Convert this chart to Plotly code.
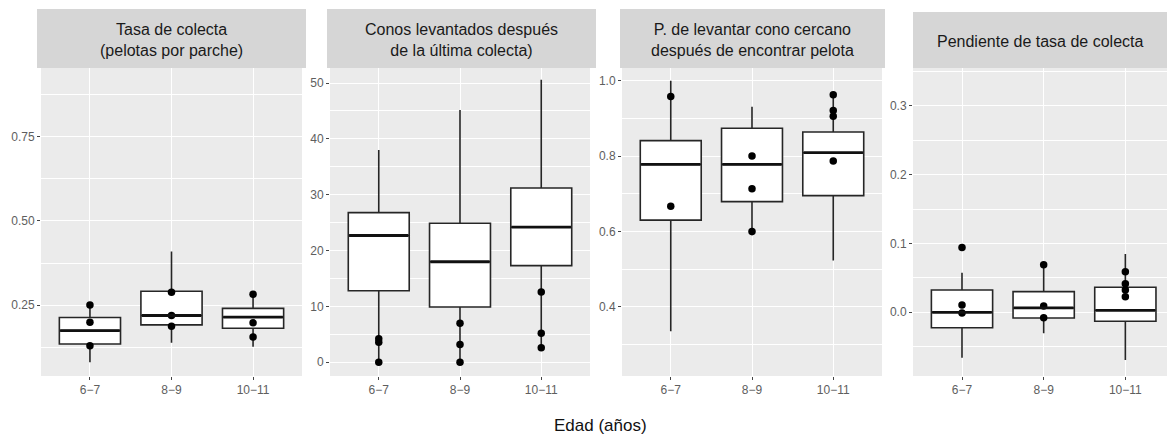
import plotly.graph_objects as go

W, H = 1167, 436

ages = ["6−7", "8−9", "10−11"]

panel_titles = [
    "Tasa de colecta<br>(pelotas por parche)",
    "Conos levantados después<br>de la última colecta)",
    "P. de levantar cono cercano<br>después de encontrar pelota",
    "Pendiente de tasa de colecta",
]

# box statistics per panel (q1, median, q3, lower whisker, upper whisker)
tasa_q1 = [0.134, 0.191, 0.181]
tasa_med = [0.174, 0.219, 0.214]
tasa_q3 = [0.213, 0.291, 0.240]
tasa_lo = [0.080, 0.138, 0.126]
tasa_hi = [0.250, 0.409, 0.282]

conos_q1 = [12.8, 9.9, 17.3]
conos_med = [22.7, 18.0, 24.2]
conos_q3 = [26.8, 24.9, 31.2]
conos_lo = [0.0, 0.0, 2.6]
conos_hi = [38.0, 45.2, 50.6]

prob_q1 = [0.630, 0.679, 0.695]
prob_med = [0.778, 0.778, 0.809]
prob_q3 = [0.841, 0.874, 0.864]
prob_lo = [0.335, 0.590, 0.523]
prob_hi = [1.000, 0.931, 0.965]

pend_q1 = [-0.0224, -0.0083, -0.0130]
pend_med = [0.0000, 0.0063, 0.0029]
pend_q3 = [0.0324, 0.0300, 0.0363]
pend_lo = [-0.0660, -0.0306, -0.0693]
pend_hi = [0.0576, 0.0698, 0.0848]

# overlaid individual points
tasa_pts = [[0.250, 0.199, 0.129], [0.288, 0.219, 0.187], [0.282, 0.197, 0.155]]
conos_pts = [[4.2, 3.6, 0.0], [7.0, 3.2, 0.0], [12.6, 5.2, 2.6]]
prob_pts = [[0.958, 0.667], [0.800, 0.713, 0.600], [0.963, 0.921, 0.906, 0.787]]
pend_pts = [[0.094, 0.0105, -0.001], [0.069, 0.009, -0.008], [0.059, 0.0414, 0.0324, 0.0227]]

y_ranges = [[0.039, 0.955], [-2.46, 52.7], [0.216, 1.034], [-0.0926, 0.355]]
y_dticks = [0.25, 10, 0.2, 0.1]
y_fmt = [".2f", "d", ".1f", ".1f"]

panels = [
    (tasa_q1, tasa_med, tasa_q3, tasa_lo, tasa_hi, tasa_pts),
    (conos_q1, conos_med, conos_q3, conos_lo, conos_hi, conos_pts),
    (prob_q1, prob_med, prob_q3, prob_lo, prob_hi, prob_pts),
    (pend_q1, pend_med, pend_q3, pend_lo, pend_hi, pend_pts),
]

# layout geometry (pixels)
px_domains = [(41, 302), (330, 590), (622, 882), (913, 1167)]
x_ranges = [[-0.6, 2.6], [-0.6, 2.6], [-0.6, 2.6], [-0.6, 2.51]]
strip_x = [(37, 306), (327, 596), (620, 885), (913, 1167)]
strip_y = [(9, 68), (9, 68), (9, 68), (12, 68)]
panel_top, panel_bot = 68, 376

BOX_W = 0.75
LINE_C = "#262626"

fig = go.Figure()
shapes = []
annotations = []

for i, (q1, med, q3, lo, hi, pts) in enumerate(panels):
    xa = "x" if i == 0 else f"x{i+1}"
    ya = "y" if i == 0 else f"y{i+1}"
    fig.add_trace(go.Box(
        x=ages, q1=q1, median=med, q3=q3, lowerfence=lo, upperfence=hi,
        xaxis=xa, yaxis=ya, width=BOX_W, whiskerwidth=0,
        fillcolor="white", line=dict(color=LINE_C, width=1.6),
        boxpoints=False, showlegend=False, hoverinfo="skip",
    ))
    # thicker median line like ggplot
    for j, m in enumerate(med):
        shapes.append(dict(type="line", xref=xa, yref=ya,
                           x0=j - BOX_W / 2 + 0.01, x1=j + BOX_W / 2 - 0.01,
                           y0=m, y1=m, line=dict(color="#111111", width=2.8)))
    px, py = [], []
    for j, grp in enumerate(pts):
        for v in grp:
            px.append(ages[j])
            py.append(v)
    fig.add_trace(go.Scatter(
        x=px, y=py, mode="markers", xaxis=xa, yaxis=ya,
        marker=dict(color="black", size=7.5), showlegend=False, hoverinfo="skip",
    ))

    d0, d1 = px_domains[i]
    ydom = [1 - panel_bot / H, 1 - panel_top / H]
    xkey = "xaxis" if i == 0 else f"xaxis{i+1}"
    ykey = "yaxis" if i == 0 else f"yaxis{i+1}"
    fig.update_layout(**{
        xkey: dict(domain=[d0 / W, d1 / W], anchor=ya, type="category",
                   categoryorder="array", categoryarray=ages,
                   range=x_ranges[i], showgrid=True, gridcolor="white", gridwidth=1.2,
                   zeroline=False, showline=False, ticks="outside", ticklen=3,
                   tickcolor="#444444", tickwidth=1,
                   tickfont=dict(family="Liberation Sans, Arial", size=12, color="#5e5e5e"),
                   fixedrange=True),
        ykey: dict(domain=ydom, anchor=xa, range=y_ranges[i],
                   tick0=0, dtick=y_dticks[i], tickformat=y_fmt[i],
                   showgrid=True, gridcolor="white", gridwidth=1.2,
                   minor=dict(dtick=y_dticks[i] / 2, tick0=0, showgrid=True,
                              gridcolor="white", gridwidth=0.6, ticks=""),
                   zeroline=False, showline=False, ticks="outside", ticklen=3,
                   tickcolor="#444444", tickwidth=1,
                   tickfont=dict(family="Liberation Sans, Arial", size=12, color="#5e5e5e"),
                   fixedrange=True),
    })
    # panel background
    shapes.append(dict(type="rect", xref="paper", yref="paper", layer="below",
                       x0=d0 / W, x1=d1 / W, y0=ydom[0], y1=ydom[1],
                       fillcolor="#EBEBEB", line=dict(width=0)))
    # strip
    sx0, sx1 = strip_x[i]
    sy0, sy1 = strip_y[i]
    shapes.append(dict(type="rect", xref="paper", yref="paper", layer="below",
                       x0=sx0 / W, x1=sx1 / W, y0=1 - sy1 / H, y1=1 - sy0 / H,
                       fillcolor="#D6D6D6", line=dict(width=0)))
    annotations.append(dict(xref="paper", yref="paper", showarrow=False,
                            x=(sx0 + sx1) / 2 / W, y=1 - ((sy0 + sy1) / 2 + 1) / H,
                            xanchor="center", yanchor="middle",
                            text=panel_titles[i],
                            font=dict(family="Liberation Sans, Arial", size=16, color="#1a1a1a")))

annotations.append(dict(xref="paper", yref="paper", showarrow=False,
                        x=600 / W, y=1 - 425 / H, xanchor="center", yanchor="middle",
                        text="Edad (años)",
                        font=dict(family="Liberation Sans, Arial", size=17, color="#111111")))

fig.update_layout(
    width=W, height=H, margin=dict(l=0, r=0, t=0, b=0),
    paper_bgcolor="white", plot_bgcolor="rgba(0,0,0,0)",
    shapes=shapes, annotations=annotations, showlegend=False,
)

fig.write_html("out.html")
